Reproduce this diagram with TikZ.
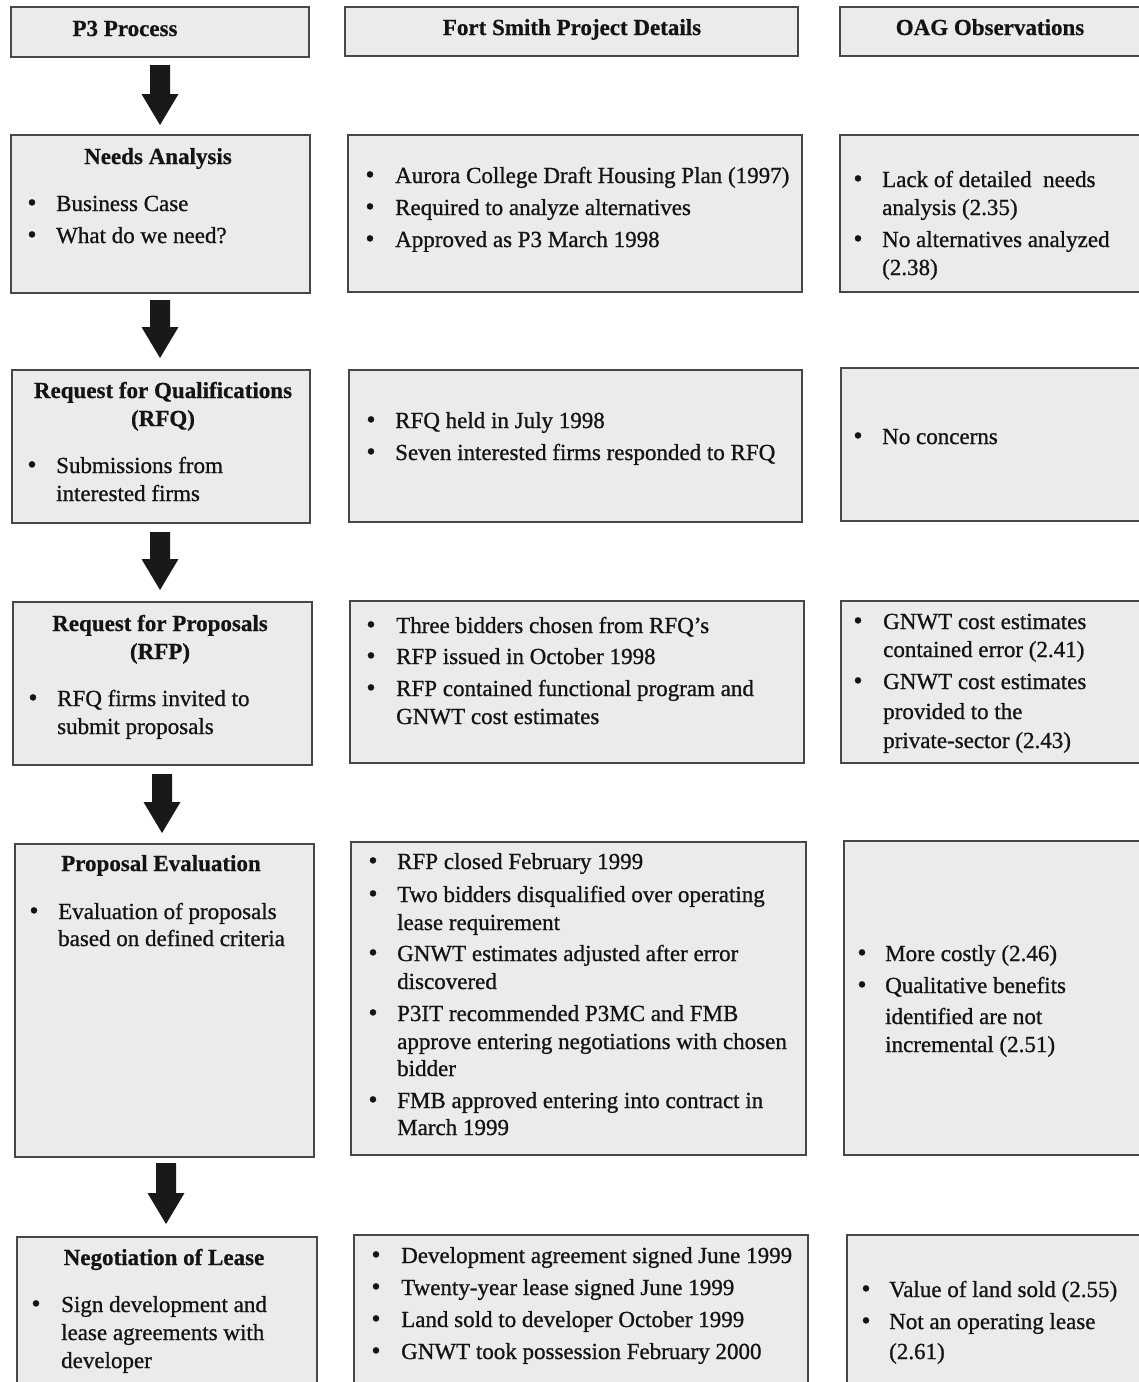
\documentclass[tikz,border=0pt]{standalone}
\usepackage{fontspec}
\setmainfont{Liberation Serif}[FakeBold=0.9,BoldFeatures={FakeBold=0.6}]
\usetikzlibrary{calc}
\tikzset{
  box/.style={draw=black!72, line width=1.8pt, fill=black!8, rectangle, inner sep=0pt, anchor=north west},
  txt/.style={anchor=base west, inner sep=0pt, text=black!92, font=\fontsize{23}{28}\selectfont},
  ttl/.style={anchor=base, inner sep=0pt, text=black!92, font=\fontsize{23}{28}\selectfont\bfseries},
  bul/.style={anchor=base, inner sep=0pt, text=black!92, font=\fontsize{26}{28}\selectfont},
  arrowfill/.style={fill=black!90}
}
\newcommand\mybox[5]{\node[box, minimum width=#4-#2, minimum height=#5-#3] (#1) at (#2,#3) {};}
\newcommand\myline[4]{\node[txt] (#1) at (#2,#3) {#4};}
\newcommand\mytitle[4]{\node[ttl] (#1) at (#2,#3) {#4};}
\newcommand\mybul[3]{\node[bul] (#1) at (#2,#3) {\textbullet};}
\newcommand\bigarrow[2]{\fill[arrowfill] let \p1=(#1), \p2=(#2) in
  (\x1-10pt,\y1) -- (\x1+10pt,\y1) -- (\x1+10pt,\y2+31pt) -- (\x1+18.5pt,\y2+31pt)
  -- (\x1,\y2) -- (\x1-18.5pt,\y2+31pt) -- (\x1-10pt,\y2+31pt) -- cycle;}
\begin{document}
\begin{tikzpicture}[x=1pt,y=-1pt]
\useasboundingbox (0,0) rectangle (1139,1382);
\clip (0,0) rectangle (1139,1382);
\fill[white] (0,0) rectangle (1139,1382);
% header row
\mybox{h1}{10}{6}{308}{56}
\mybox{h2}{344}{6}{797}{55}
\mybox{h3}{839}{6}{1150}{55}
\mytitle{h1t}{125}{36}{P3 Process}
\mytitle{h2t}{572}{35}{Fort Smith Project Details}
\mytitle{h3t}{990}{35}{OAG Observations}
% row 1
\mybox{a1}{10}{134}{309}{292}
\mybox{b1}{347}{134}{801}{291}
\mybox{c1}{839}{134}{1150}{291}
\mytitle{a1t}{158}{164}{Needs Analysis}
\mybul{a1b1}{32}{211}\myline{a1l1}{56}{211}{Business Case}
\mybul{a1b2}{32}{243}\myline{a1l2}{56}{243}{What do we need?}
\mybul{b1b1}{370}{183}\myline{b1l1}{395}{183}{Aurora College Draft Housing Plan (1997)}
\mybul{b1b2}{370}{215}\myline{b1l2}{395}{215}{Required to analyze alternatives}
\mybul{b1b3}{370}{247}\myline{b1l3}{395}{247}{Approved as P3 March 1998}
\mybul{c1b1}{858}{187}\myline{c1l1}{882}{187}{Lack of detailed\ \ needs}
\myline{c1l2}{882}{215}{analysis (2.35)}
\mybul{c1b2}{858}{247}\myline{c1l3}{882}{247}{No alternatives analyzed}
\myline{c1l4}{882}{275}{(2.38)}
% row 2
\mybox{a2}{11}{369}{309}{522}
\mybox{b2}{348}{369}{801}{521}
\mybox{c2}{840}{367}{1150}{520}
\mytitle{a2t1}{163}{398}{Request for Qualifications}
\mytitle{a2t2}{163}{426}{(RFQ)}
\mybul{a2b1}{32}{473}\myline{a2l1}{56}{473}{Submissions from}
\myline{a2l2}{56}{501}{interested firms}
\mybul{b2b1}{371}{428}\myline{b2l1}{395}{428}{RFQ held in July 1998}
\mybul{b2b2}{371}{460}\myline{b2l2}{395}{460}{Seven interested firms responded to RFQ}
\mybul{c2b1}{858}{444}\myline{c2l1}{882}{444}{No concerns}
% row 3
\mybox{a3}{12}{601}{311}{764}
\mybox{b3}{349}{600}{803}{762}
\mybox{c3}{840}{600}{1150}{762}
\mytitle{a3t1}{160}{631}{Request for Proposals}
\mytitle{a3t2}{160}{659}{(RFP)}
\mybul{a3b1}{33}{706}\myline{a3l1}{57}{706}{RFQ firms invited to}
\myline{a3l2}{57}{734}{submit proposals}
\mybul{b3b1}{371}{633}\myline{b3l1}{396}{633}{Three bidders chosen from RFQ’s}
\mybul{b3b2}{371}{664}\myline{b3l2}{396}{664}{RFP issued in October 1998}
\mybul{b3b3}{371}{696}\myline{b3l3}{396}{696}{RFP contained functional program and}
\myline{b3l4}{396}{724}{GNWT cost estimates}
\mybul{c3b1}{858}{629}\myline{c3l1}{883}{629}{GNWT cost estimates}
\myline{c3l2}{883}{657}{contained error (2.41)}
\mybul{c3b2}{858}{689}\myline{c3l3}{883}{689}{GNWT cost estimates}
\myline{c3l4}{883}{719}{provided to the}
\myline{c3l5}{883}{748}{private-sector (2.43)}
% row 4
\mybox{a4}{14}{843}{313}{1156}
\mybox{b4}{350}{841}{805}{1154}
\mybox{c4}{843}{840}{1150}{1154}
\mytitle{a4t}{161}{871}{Proposal Evaluation}
\mybul{a4b1}{34}{919}\myline{a4l1}{58}{919}{Evaluation of proposals}
\myline{a4l2}{58}{946}{based on defined criteria}
\mybul{b4b1}{373}{869}\myline{b4l1}{397}{869}{RFP closed February 1999}
\mybul{b4b2}{373}{902}\myline{b4l2}{397}{902}{Two bidders disqualified over operating}
\myline{b4l3}{397}{930}{lease requirement}
\mybul{b4b3}{373}{961}\myline{b4l4}{397}{961}{GNWT estimates adjusted after error}
\myline{b4l5}{397}{989}{discovered}
\mybul{b4b4}{373}{1021}\myline{b4l6}{397}{1021}{P3IT recommended P3MC and FMB}
\myline{b4l7}{397}{1049}{approve entering negotiations with chosen}
\myline{b4l8}{397}{1076}{bidder}
\mybul{b4b5}{373}{1108}\myline{b4l9}{397}{1108}{FMB approved entering into contract in}
\myline{b4l10}{397}{1135}{March 1999}
\mybul{c4b1}{862}{961}\myline{c4l1}{885}{961}{More costly (2.46)}
\mybul{c4b2}{862}{993}\myline{c4l2}{885}{993}{Qualitative benefits}
\myline{c4l3}{885}{1024}{identified are not}
\myline{c4l4}{885}{1052}{incremental (2.51)}
% row 5
\mybox{a5}{16}{1236}{316}{1400}
\mybox{b5}{353}{1234}{807}{1400}
\mybox{c5}{846}{1234}{1150}{1400}
\mytitle{a5t}{164}{1265}{Negotiation of Lease}
\mybul{a5b1}{36}{1312}\myline{a5l1}{61}{1312}{Sign development and}
\myline{a5l2}{61}{1340}{lease agreements with}
\myline{a5l3}{61}{1368}{developer}
\mybul{b5b1}{376}{1263}\myline{b5l1}{401}{1263}{Development agreement signed June 1999}
\mybul{b5b2}{376}{1295}\myline{b5l2}{401}{1295}{Twenty-year lease signed June 1999}
\mybul{b5b3}{376}{1327}\myline{b5l3}{401}{1327}{Land sold to developer October 1999}
\mybul{b5b4}{376}{1359}\myline{b5l4}{401}{1359}{GNWT took possession February 2000}
\mybul{c5b1}{866}{1297}\myline{c5l1}{889}{1297}{Value of land sold (2.55)}
\mybul{c5b2}{866}{1329}\myline{c5l2}{889}{1329}{Not an operating lease}
\myline{c5l3}{889}{1359}{(2.61)}
% arrows between P3 process boxes
\coordinate (s1) at (160,65);  \coordinate (e1) at (160,125);
\coordinate (s2) at (160,300); \coordinate (e2) at (160,358);
\coordinate (s3) at (160,532); \coordinate (e3) at (160,590);
\coordinate (s4) at (162,774); \coordinate (e4) at (162,833);
\coordinate (s5) at (166,1163);\coordinate (e5) at (166,1224);
\bigarrow{s1}{e1}
\bigarrow{s2}{e2}
\bigarrow{s3}{e3}
\bigarrow{s4}{e4}
\bigarrow{s5}{e5}
\end{tikzpicture}
\end{document}
